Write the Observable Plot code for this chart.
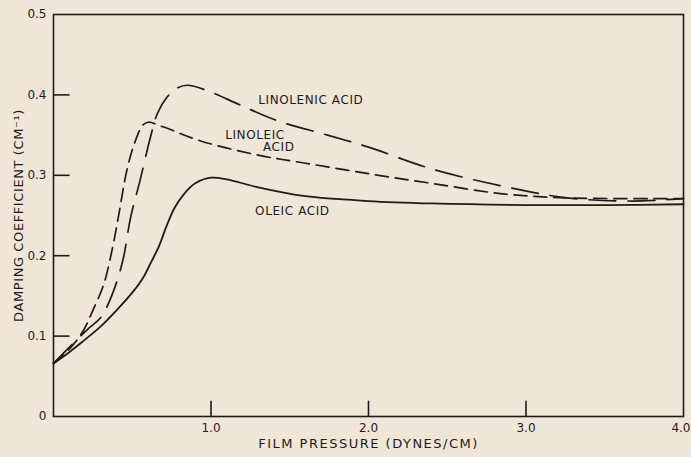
<!DOCTYPE html>
<html>
<head>
<meta charset="utf-8">
<script src="https://cdn.jsdelivr.net/npm/d3@7"></script>
<script src="https://cdn.jsdelivr.net/npm/@observablehq/plot@0.6"></script>
<style>
  html, body { margin: 0; padding: 0; background: #efe6d8; }
  svg [aria-label="x-axis label"] text { letter-spacing: 1.5px; font-size: 13px; }
  svg [aria-label="y-axis label"] text { letter-spacing: 0.6px; font-size: 13px; }
  svg .curve-label text { letter-spacing: 0.6px; }
</style>
</head>
<body>
<div id="chart"></div>
<script>
// Film pressure (dynes/cm) vs damping coefficient (cm^-1)
const oleic = [
  [0, 0.066], [0.1, 0.080], [0.19, 0.094], [0.3, 0.112], [0.4, 0.132], [0.5, 0.154],
  [0.57, 0.173], [0.62, 0.192], [0.67, 0.212], [0.72, 0.238], [0.77, 0.260],
  [0.83, 0.277], [0.9, 0.290], [1.0, 0.297], [1.1, 0.295], [1.3, 0.285],
  [1.6, 0.274], [2.0, 0.268], [2.4, 0.265], [3.0, 0.263], [3.5, 0.263], [4.0, 0.264]
];
const linoleic = [
  [0, 0.066], [0.11, 0.086], [0.19, 0.107], [0.25, 0.132], [0.32, 0.165],
  [0.375, 0.210], [0.41, 0.246], [0.47, 0.310], [0.52, 0.343], [0.565, 0.362],
  [0.6, 0.366], [0.7, 0.360], [0.93, 0.343], [1.3, 0.325], [1.6, 0.315],
  [2.0, 0.302], [2.4, 0.290], [2.85, 0.277], [3.25, 0.272], [4.0, 0.271]
];
const linolenic = [
  [0, 0.066], [0.1, 0.086], [0.22, 0.109], [0.3, 0.123], [0.375, 0.153],
  [0.44, 0.194], [0.49, 0.248], [0.55, 0.294], [0.615, 0.347], [0.66, 0.377],
  [0.72, 0.397], [0.78, 0.408], [0.85, 0.412], [0.98, 0.405], [1.19, 0.387],
  [1.42, 0.368], [1.74, 0.350], [2.0, 0.335], [2.4, 0.308], [2.84, 0.287],
  [3.26, 0.272], [3.68, 0.268], [4.0, 0.271]
];
const xTicks = [1, 2, 3, 4];
const yTicks = [0, 0.1, 0.2, 0.3, 0.4, 0.5];
const labels = [
  {text: "LINOLENIC ACID", x: 1.30, y: 0.393},
  {text: "LINOLEIC", x: 1.09, y: 0.350},
  {text: "ACID", x: 1.33, y: 0.335},
  {text: "OLEIC ACID", x: 1.28, y: 0.255}
];

const ink = "#1e1c1a";
const fmtX = d => d.toFixed(1);
const chart = Plot.plot({
  width: 691,
  height: 457,
  marginLeft: 53,
  marginRight: 8,
  marginTop: 14,
  marginBottom: 41,
  x: {domain: [0, 4]},
  y: {domain: [0, 0.5]},
  style: {background: "#efe6d8", fontFamily: "DejaVu Sans", color: ink, fontSize: "12px"},
  marks: [
    Plot.frame({stroke: ink, strokeWidth: 1.6}),
    Plot.ruleY(yTicks.slice(1, -1), {x1: 0, x2: 0.105, stroke: ink, strokeWidth: 1.6}),
    Plot.ruleX(xTicks.slice(0, -1), {y1: 0, y2: 0.019, stroke: ink, strokeWidth: 1.6}),
    Plot.axisY({
      ticks: yTicks, tickSize: 0, tickPadding: 7,
      tickFormat: d => d === 0 ? "0" : d.toFixed(1),
      label: "DAMPING COEFFICIENT (CM⁻¹)", labelAnchor: "center", labelOffset: 40, labelArrow: "none"
    }),
    Plot.axisX({
      ticks: xTicks.slice(0, -1), tickSize: 0, tickPadding: 7,
      tickFormat: fmtX,
      label: "FILM PRESSURE (DYNES/CM)", labelAnchor: "center", labelOffset: 31, labelArrow: "none"
    }),
    Plot.axisX({
      ticks: xTicks.slice(-1), tickSize: 0, tickPadding: 7,
      tickFormat: fmtX, textAnchor: "end", dx: 7, label: null
    }),
    Plot.line(oleic, {x: d => d[0], y: d => d[1], curve: "catmull-rom", stroke: ink, strokeWidth: 1.8}),
    Plot.line(linoleic, {x: d => d[0], y: d => d[1], curve: "catmull-rom", stroke: ink, strokeWidth: 1.7, strokeDasharray: "13 7"}),
    Plot.line(linolenic, {x: d => d[0], y: d => d[1], curve: "catmull-rom", stroke: ink, strokeWidth: 1.7, strokeDasharray: "27 12"}),
    Plot.text(labels, {x: "x", y: "y", text: "text", textAnchor: "start", fontSize: 12, fill: ink, className: "curve-label"})
  ]
});
document.getElementById("chart").appendChild(chart);
</script>
</body>
</html>
